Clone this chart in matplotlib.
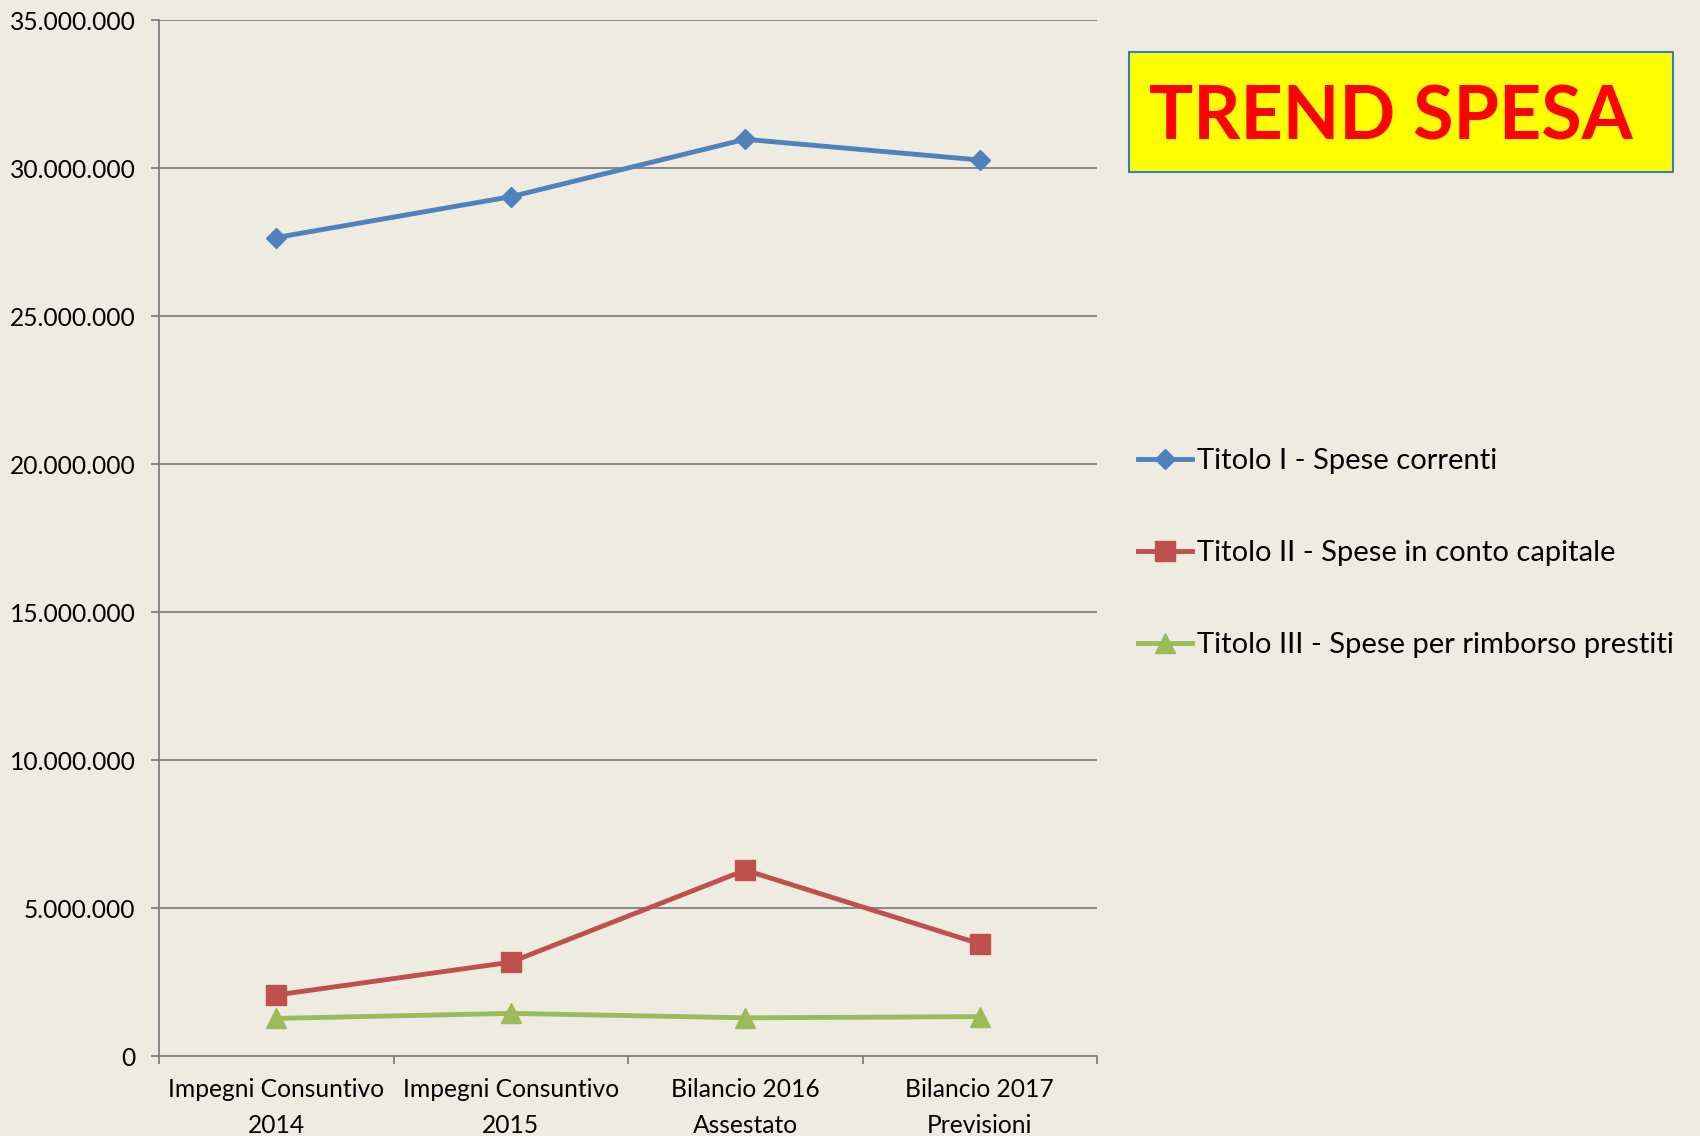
import matplotlib
matplotlib.use('Agg')
import matplotlib.pyplot as plt
from matplotlib.patches import Rectangle
from matplotlib.ticker import FuncFormatter

plt.rcParams['font.family'] = ['Lato', 'DejaVu Sans']

# Data
categories = ['Impegni Consuntivo\n2014', 'Impegni Consuntivo\n2015',
              'Bilancio 2016\nAssestato', 'Bilancio 2017\nPrevisioni']
spese_correnti = [27650000, 29030000, 30970000, 30270000]
spese_capitale = [2060000, 3170000, 6280000, 3790000]
rimborso_prestiti = [1270000, 1440000, 1290000, 1330000]
series_labels = ['Titolo I - Spese correnti',
                 'Titolo II - Spese in conto capitale',
                 'Titolo III - Spese per rimborso prestiti']
yticks = [0, 5000000, 10000000, 15000000, 20000000, 25000000, 30000000, 35000000]

BG = '#EEECE1'
GRID = '#868686'
W, H = 1700, 1136

fig = plt.figure(figsize=(W / 100, H / 100), dpi=100, facecolor=BG)
ax = fig.add_axes([159 / W, 1 - 1056 / H, (1097 - 159) / W, (1056 - 20) / H])
ax.set_facecolor(BG)

x = list(range(len(categories)))
ax.plot(x, spese_correnti, color='#4F81BD', lw=3.5, marker='D', ms=10, label=series_labels[0], zorder=3)
ax.plot(x, spese_capitale, color='#C0504D', lw=3.5, marker='s', ms=14, label=series_labels[1], zorder=3)
ax.plot(x, rimborso_prestiti, color='#9BBB59', lw=3.5, marker='^', ms=14, label=series_labels[2], zorder=3)

ax.set_xlim(-0.5, len(categories) - 0.5)
ax.set_ylim(0, 35000000)
ax.set_yticks(yticks)
ax.yaxis.set_major_formatter(FuncFormatter(lambda v, p: f"{int(v):,}".replace(',', '.')))
ax.grid(axis='y', color=GRID, lw=1.4)
ax.set_axisbelow(True)

# ticks between categories, labels at category centres
ax.set_xticks([i - 0.5 for i in range(len(categories) + 1)])
ax.set_xticklabels([])
ax.set_xticks(x, minor=True)
ax.set_xticklabels(categories, minor=True, fontsize=17.7, linespacing=1.65)
ax.tick_params(axis='x', which='major', length=6, width=1.4, color=GRID, direction='out')
ax.tick_params(axis='x', which='minor', length=0, pad=16)
ax.tick_params(axis='y', length=6, width=1.4, color=GRID, labelsize=17.7, pad=11)

for s in ['top', 'right']:
    ax.spines[s].set_visible(False)
for s in ['left', 'bottom']:
    ax.spines[s].set_color(GRID)
    ax.spines[s].set_linewidth(1.4)

fig.legend(loc='center left', bbox_to_anchor=(1138 / W, 1 - 553 / H), frameon=False,
           fontsize=21, handlelength=1.85, handletextpad=0.18, labelspacing=2.26,
           borderpad=0, borderaxespad=0)

# title box
fig.patches.append(Rectangle((1129 / W, 1 - 172 / H), (1673 - 1129) / W, (172 - 52) / H,
                             transform=fig.transFigure, facecolor='#FFFF00',
                             edgecolor='#3A7CC4', lw=1.5))
fig.text(1149 / W, 1 - 140 / H, 'TREND SPESA', color='#FF0000', fontsize=53,
         fontweight='bold', ha='left', va='baseline')

fig.savefig('out.png', dpi=100, facecolor=BG)
